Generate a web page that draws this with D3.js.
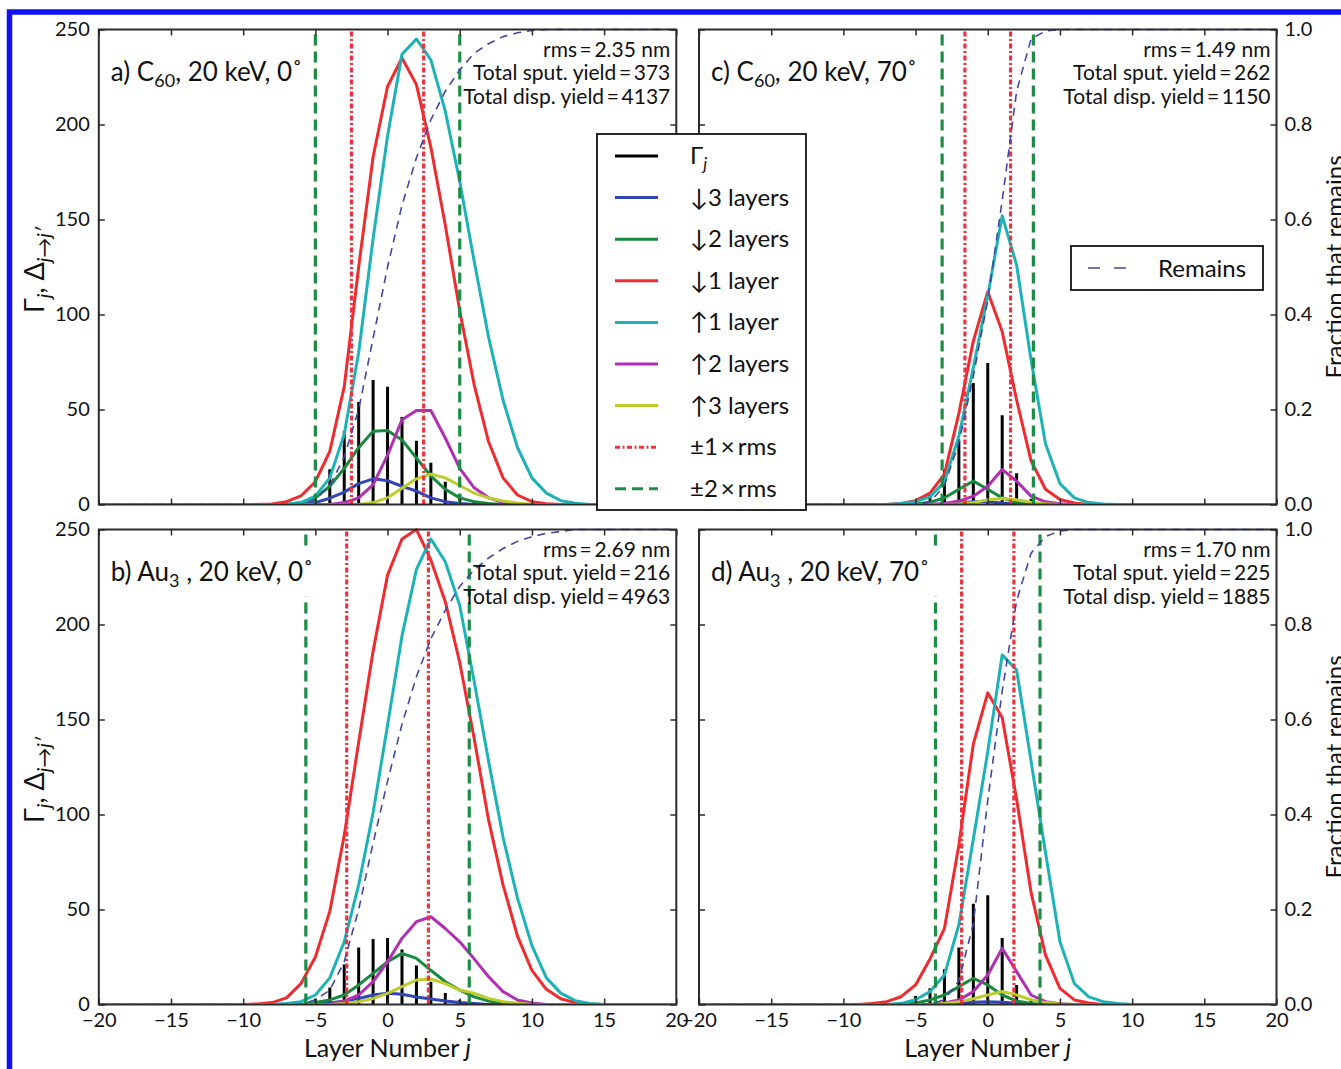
<!DOCTYPE html>
<html>
<head>
<meta charset="utf-8">
<script src="https://cdnjs.cloudflare.com/ajax/libs/d3/7.8.5/d3.min.js"></script>
<style>
  body { margin: 0; background: #fff; }
  svg { display: block; font-family: Lato, "DejaVu Sans", sans-serif; }
  .frame { fill: none; stroke: #2b2b2b; stroke-width: 2; }
  .tick line { stroke: #2b2b2b; stroke-width: 1.5; }
  .tick text { font-size: 20px; fill: #111; font-family: Lato, sans-serif; }
  .domain { display: none; }
</style>
</head>
<body>
<svg id="chart" width="1341" height="1069"></svg>
<script>
// layer index j, shared by every panel
var layers = [-20, -19, -18, -17, -16, -15, -14, -13, -12, -11, -10, -9, -8, -7, -6, -5, -4, -3, -2, -1,
              0, 1, 2, 3, 4, 5, 6, 7, 8, 9, 10, 11, 12, 13, 14, 15, 16, 17, 18, 19, 20];

// a) C60, 20 keV, 0 deg
var gammaA  = [0,0,0,0,0,0,0,0,0,0,0,0,0,0, 1,5,18.5,38.5,54,65.5,62,46,33.5,22,12,5.5,2,0.5, 0,0,0,0,0,0,0,0,0,0,0,0,0];
var down3A  = [0,0,0,0,0,0,0,0,0,0,0,0,0,0,0, 1,3.3,6.5,11,13.5,12.5,9.6,7,3.5,1.5,0.5, 0,0,0,0,0,0,0,0,0,0,0,0,0,0,0];
var down2A  = [0,0,0,0,0,0,0,0,0,0,0,0,0,0, 1,3.5,9.6,19,30,38.5,39,34,24.5,15,8,3.5,1.5,0.5, 0,0,0,0,0,0,0,0,0,0,0,0,0];
var down1A  = [0,0,0,0,0,0,0,0,0,0,0,0, 0.3,1.5,4.5,12,28,62,125,183,220,235,221,188,147,102,63,33,14,5,1.5,0.4, 0,0,0,0,0,0,0,0,0];
var up1A    = [0,0,0,0,0,0,0,0,0,0,0,0,0,0, 1,4.4,14,37,80,140,194,237,245,234,207,170,128,88,55,30,14,6,2,0.7, 0,0,0,0,0,0,0];
var up2A    = [0,0,0,0,0,0,0,0,0,0,0,0,0,0,0,0,0, 1,3.5,10.5,26,44.6,49.5,49.5,35,19,8.8,3.5,1.2, 0,0,0,0,0,0,0,0,0,0,0,0];
var up3A    = [0,0,0,0,0,0,0,0,0,0,0,0,0,0,0,0,0,0,0, 1,3.5,8.5,13.5,16,14,10,6,3.5,1.8,0.8, 0,0,0,0,0,0,0,0,0,0,0];
var remainsA = [0,0,0,0,0,0,0,0,0,0,0,0,0,0,0, 0.01,0.04,0.1,0.2,0.35,0.5,0.63,0.73,0.81,0.87,0.915,0.95,0.97,0.985,0.993,0.998, 1,1,1,1,1,1,1,1,1,1];

// b) Au3, 20 keV, 0 deg
var gammaB  = [0,0,0,0,0,0,0,0,0,0,0,0,0,0,0, 3,9,21,30,34.5,35,29,20.5,12,6,2.5,1, 0,0,0,0,0,0,0,0,0,0,0,0,0,0];
var down3B  = [0,0,0,0,0,0,0,0,0,0,0,0,0,0,0,0, 0.8,1.8,3.2,5,5.9,5.4,4,2.9,1.8,1,0.5, 0,0,0,0,0,0,0,0,0,0,0,0,0,0];
var down2B  = [0,0,0,0,0,0,0,0,0,0,0,0,0,0,0, 1,2.4,5,10.3,16.4,22.5,26.9,24.3,18,12,7.6,4,1.8,0.8, 0,0,0,0,0,0,0,0,0,0,0,0];
var down1B  = [0,0,0,0,0,0,0,0,0,0,0, 0.3,1,3.5,11,25,49,89,138,186,226,245,250,234,212,180,140,97,63,36,18,8,3,1,0.3, 0,0,0,0,0,0];
var up1B    = [0,0,0,0,0,0,0,0,0,0,0,0,0, 0.5,1.5,5,14,33,63,101,147,194,229,245,233,210,170,128,88,56,31,14,6,2,0.5, 0,0,0,0,0,0];
var up2B    = [0,0,0,0,0,0,0,0,0,0,0,0,0,0,0,0,0, 1.8,5,12,22.5,34.8,43.6,46.2,40,33,24,14.6,6.8,2.4,0.8, 0,0,0,0,0,0,0,0,0,0];
var up3B    = [0,0,0,0,0,0,0,0,0,0,0,0,0,0,0,0,0, 0.5,1.5,3.2,5.9,9.4,12.9,13.4,11,7.6,5.9,3.2,1.5,0.6, 0,0,0,0,0,0,0,0,0,0,0];
var remainsB = [0,0,0,0,0,0,0,0,0,0,0,0,0,0,0, 0.01,0.03,0.09,0.2,0.34,0.47,0.59,0.69,0.77,0.83,0.88,0.915,0.94,0.96,0.975,0.985,0.992,0.996, 1,1,1,1,1,1,1,1];

// c) C60, 20 keV, 70 deg
var gammaC  = [0,0,0,0,0,0,0,0,0,0,0,0,0,0,0, 1,5,18,33.5,64,74.5,47,16.5,3,0.5, 0,0,0,0,0,0,0,0,0,0,0,0,0,0,0,0];
var down3C  = [0,0,0,0,0,0,0,0,0,0,0,0,0,0,0,0,0, 0.3,0.8,1.5,1.5,0.8,0.3, 0,0,0,0,0,0,0,0,0,0,0,0,0,0,0,0,0,0];
var down2C  = [0,0,0,0,0,0,0,0,0,0,0,0,0,0,0, 0.3,1.2,3.5,8,12.3,8,3.5,1.2,0.4, 0,0,0,0,0,0,0,0,0,0,0,0,0,0,0,0,0];
var down1C  = [0,0,0,0,0,0,0,0,0,0,0,0,0,0, 0.5,2,6,16,48,86,112,91,55,23,8,2.6,0.8, 0,0,0,0,0,0,0,0,0,0,0,0,0,0];
var up1C    = [0,0,0,0,0,0,0,0,0,0,0,0,0,0, 0.5,1.5,4,12,36,72,110,152,126,76,32,11,3.5,1,0.3, 0,0,0,0,0,0,0,0,0,0,0,0];
var up2C    = [0,0,0,0,0,0,0,0,0,0,0,0,0,0,0,0,0, 0.5,1.8,4.4,9.6,18.4,12.3,4.4,1.4,0.4, 0,0,0,0,0,0,0,0,0,0,0,0,0,0,0];
var up3C    = [0,0,0,0,0,0,0,0,0,0,0,0,0,0,0,0,0,0, 0.3,1,2.5,3.2,2.5,1.2,0.4, 0,0,0,0,0,0,0,0,0,0,0,0,0,0,0,0];
var remainsC = [0,0,0,0,0,0,0,0,0,0,0,0,0,0,0,0, 0.005,0.04,0.13,0.27,0.43,0.64,0.87,0.98,0.997, 1,1,1,1,1,1,1,1,1,1,1,1,1,1,1,1];

// d) Au3, 20 keV, 70 deg
var gammaD  = [0,0,0,0,0,0,0,0,0,0,0,0,0,0,0, 4.5,8.5,18.5,30,53,57.5,35,10.3,2, 0,0,0,0,0,0,0,0,0,0,0,0,0,0,0,0,0];
var down3D  = [0,0,0,0,0,0,0,0,0,0,0,0,0,0,0,0,0,0, 0.5,1.2,1.5,1.2,0.6, 0,0,0,0,0,0,0,0,0,0,0,0,0,0,0,0,0,0];
var down2D  = [0,0,0,0,0,0,0,0,0,0,0,0,0,0,0, 0.8,2.4,5,9.4,13.8,10.3,5,1.8,0.5, 0,0,0,0,0,0,0,0,0,0,0,0,0,0,0,0,0];
var down1D  = [0,0,0,0,0,0,0,0,0,0,0,0, 0.5,1.5,4.1,10.3,24,40,84,137,164,151,108,59,26,8.5,2.4,0.8, 0,0,0,0,0,0,0,0,0,0,0,0,0];
var up1D    = [0,0,0,0,0,0,0,0,0,0,0,0,0,0, 0.6,2.5,6.8,15.5,42,87,133,184,176,128,80,33,11,4,1.5,0.5, 0,0,0,0,0,0,0,0,0,0,0];
var up2D    = [0,0,0,0,0,0,0,0,0,0,0,0,0,0,0,0,0, 0.8,2.4,6.8,15.5,29.6,17.3,5,1.5,0.4, 0,0,0,0,0,0,0,0,0,0,0,0,0,0,0];
var up3D    = [0,0,0,0,0,0,0,0,0,0,0,0,0,0,0,0,0, 0.5,1.5,3,5,6.8,5,2.5,1,0.3, 0,0,0,0,0,0,0,0,0,0,0,0,0,0,0];
var remainsD = [0,0,0,0,0,0,0,0,0,0,0,0,0,0,0,0,0, 0.01,0.05,0.17,0.43,0.66,0.85,0.95,0.985,0.997, 1,1,1,1,1,1,1,1,1,1,1,1,1,1,1];

var labelPrefix = ["a) C", "b) Au", "c) C", "d) Au"];
var labelSub = ["60", "3", "60", "3"];
var labelSuffix = [", 20 keV, 0\u02da", " , 20 keV, 0\u02da", ", 20 keV, 70\u02da", " , 20 keV, 70\u02da"];
var rmsNm = ["2.35", "2.69", "1.49", "1.70"];
var rmsLayers = [2.5, 2.83, 1.58, 1.81];   // rms in layer units, lines at +-1 and +-2 x rms
var sputYield = [373, 216, 262, 225];
var dispYield = [4137, 4963, 1150, 1885];

var xTicks = [-20, -15, -10, -5, 0, 5, 10, 15, 20];
var yTicks = [0, 50, 100, 150, 200, 250];
var fracTicks = [0, 0.2, 0.4, 0.6, 0.8, 1.0];

var seriesNames = ["\u21933 layers", "\u21932 layers", "\u21931 layer", "\u21911 layer", "\u21912 layers", "\u21913 layers"];
var seriesColors = ["#3346b5", "#188a3e", "#ee2b2f", "#1db3b6", "#b12fb3", "#bccc2c"];

var gammas = [gammaA, gammaB, gammaC, gammaD];
var series = [
    [down3A, down2A, down1A, up1A, up2A, up3A],
    [down3B, down2B, down1B, up1B, up2B, up3B],
    [down3C, down2C, down1C, up1C, up2C, up3C],
    [down3D, down2D, down1D, up1D, up2D, up3D]
];
var remains = [remainsA, remainsB, remainsC, remainsD];

var svg = d3.select("#chart");
var W = 577.5, H = 475;
var boxes = [{x: 98.8, y: 29.5}, {x: 98.8, y: 529.5}, {x: 699, y: 29.5}, {x: 699, y: 529.5}];
var rmsDash = "5,2.5,2,2.5", twoRmsDash = "11,6", remainsDash = "8,6";

// outer blue border of the figure (cropped on right / bottom)
svg.append("rect").attr("x", 9.5).attr("y", 12).attr("width", 1400).attr("height", 1200)
    .attr("fill", "none").attr("stroke", "#1010f4").attr("stroke-width", 5.5);

function drawPanel(i) {
    var b = boxes[i];
    var isLeft = i < 2, isBottom = (i % 2) === 1;
    var x = d3.scaleLinear().domain([-20, 20]).range([b.x, b.x + W]);
    var y = d3.scaleLinear().domain([0, 250]).range([b.y + H, b.y]);
    var yFrac = d3.scaleLinear().domain([0, 1]).range([b.y + H, b.y]);
    var g = svg.append("g");

    g.append("clipPath").attr("id", "clip" + i).append("rect")
        .attr("x", b.x).attr("y", b.y - 2).attr("width", W).attr("height", H + 2);
    var plot = g.append("g").attr("clip-path", "url(#clip" + i + ")");

    // Gamma_j as vertical bars
    var gamma = gammas[i];
    plot.selectAll("line.bar").data(layers.filter(function(d, k) { return gamma[k] > 0; }))
        .enter().append("line").attr("class", "bar")
        .attr("x1", function(d) { return x(d); }).attr("x2", function(d) { return x(d); })
        .attr("y1", y(0))
        .attr("y2", function(d) { return y(gamma[layers.indexOf(d)]); })
        .attr("stroke", "#000").attr("stroke-width", 3);

    var line = d3.line().x(function(d, k) { return x(layers[k]); }).y(function(d) { return y(d); });
    series[i].forEach(function(s, n) {
        plot.append("path").attr("d", line(s)).attr("fill", "none")
            .attr("stroke", seriesColors[n]).attr("stroke-width", 3).attr("stroke-linejoin", "round");
    });

    // +-1 x rms and +-2 x rms
    var r = rmsLayers[i];
    [[-r, "#ee3340", rmsDash], [r, "#ee3340", rmsDash], [-2 * r, "#1d8c45", twoRmsDash], [2 * r, "#1d8c45", twoRmsDash]]
        .forEach(function(v) {
            plot.append("line").attr("x1", x(v[0])).attr("x2", x(v[0]))
                .attr("y1", b.y + H).attr("y2", b.y)
                .attr("stroke", v[1]).attr("stroke-width", 3.2).attr("stroke-dasharray", v[2]);
        });

    var fracLine = d3.line().x(function(d, k) { return x(layers[k]); }).y(function(d) { return yFrac(d); });
    plot.append("path").attr("d", fracLine(remains[i])).attr("fill", "none")
        .attr("stroke", "#4545a5").attr("stroke-width", 1.6).attr("stroke-dasharray", remainsDash);

    // panel title with white box behind it
    var title = g.append("text").attr("x", b.x + 12).attr("y", b.y + 51).style("font-size", "26px").attr("fill", "#111");
    title.append("tspan").text(labelPrefix[i]);
    title.append("tspan").attr("dy", 6).style("font-size", "18px").text(labelSub[i]);
    title.append("tspan").attr("dy", -6).text(labelSuffix[i]);
    var bb = title.node().getBBox();
    g.insert("rect", function() { return title.node(); })
        .attr("x", bb.x - 6).attr("y", bb.y - 8).attr("width", bb.width + 16).attr("height", bb.height + 14)
        .attr("fill", "#fff");

    var notes = ["rms\u2009=\u2009" + rmsNm[i] + " nm",
                 "Total sput. yield\u2009=\u2009" + sputYield[i],
                 "Total disp. yield\u2009=\u2009" + dispYield[i]];
    g.selectAll("text.note").data(notes).enter().append("text").attr("class", "note")
        .attr("x", b.x + W - 6).attr("y", function(d, k) { return b.y + 27 + k * 23.7; })
        .attr("text-anchor", "end").style("font-size", "21px").attr("fill", "#111")
        .text(function(d) { return d; });

    // frame and inward ticks
    g.append("rect").attr("class", "frame").attr("x", b.x).attr("y", b.y).attr("width", W).attr("height", H);

    var bottom = d3.axisBottom(x).tickValues(xTicks).tickSize(-6).tickSizeOuter(0).tickPadding(8);
    if (!isBottom) bottom.tickFormat("");
    g.append("g").attr("transform", "translate(0," + (b.y + H) + ")").call(bottom);
    g.append("g").attr("transform", "translate(0," + b.y + ")")
        .call(d3.axisTop(x).tickValues(xTicks).tickSize(-6).tickSizeOuter(0).tickFormat(""));

    var left = d3.axisLeft(y).tickValues(yTicks).tickSize(-6).tickSizeOuter(0).tickPadding(9);
    if (!isLeft) left.tickFormat("");
    g.append("g").attr("transform", "translate(" + b.x + ",0)").call(left);

    var right = isLeft ? d3.axisRight(y).tickValues(yTicks).tickFormat("")
                       : d3.axisRight(yFrac).tickValues(fracTicks).tickFormat(d3.format(".1f")).tickPadding(8);
    right.tickSize(-6).tickSizeOuter(0);
    g.append("g").attr("transform", "translate(" + (b.x + W) + ",0)").call(right);
}

[0, 1, 2, 3].forEach(drawPanel);

// axis titles
[270, 780].forEach(function(yc) {
    var t = svg.append("text").attr("transform", "translate(44," + yc + ") rotate(-90)")
        .attr("text-anchor", "middle").style("font-size", "27px").attr("fill", "#111");
    t.append("tspan").text("\u0393");
    t.append("tspan").attr("dy", 7).style("font-size", "20px").style("font-style", "italic").text("j");
    t.append("tspan").attr("dy", -7).text(", \u0394");
    t.append("tspan").attr("dy", 7).style("font-size", "20px").style("font-style", "italic").text("j\u2192j\u2032");
});
[267, 767].forEach(function(yc) {
    svg.append("text").attr("transform", "translate(1343," + yc + ") rotate(-90)")
        .attr("text-anchor", "middle").style("font-size", "24px").attr("fill", "#111")
        .text("Fraction that remains");
});
[387.4, 987.7].forEach(function(xc) {
    var t = svg.append("text").attr("x", xc).attr("y", 1057).attr("text-anchor", "middle")
        .style("font-size", "25px").attr("fill", "#111");
    t.append("tspan").text("Layer Number ");
    t.append("tspan").style("font-style", "italic").text("j");
});

// main legend
var legend = svg.append("g");
legend.append("rect").attr("x", 597).attr("y", 134).attr("width", 209).attr("height", 376)
    .attr("fill", "#fff").attr("stroke", "#111").attr("stroke-width", 1.8);
var legendRows = [{name: "\u0393", color: "#000", dash: null}].concat(
    seriesNames.map(function(n, k) { return {name: n, color: seriesColors[k], dash: null}; }),
    [{name: "\u00b11\u2009\u00d7\u2009rms", color: "#ee3340", dash: rmsDash},
     {name: "\u00b12\u2009\u00d7\u2009rms", color: "#1d8c45", dash: twoRmsDash}]);
legendRows.forEach(function(row, k) {
    var yy = 156 + k * 41.6;
    legend.append("line").attr("x1", 615).attr("x2", 658).attr("y1", yy).attr("y2", yy)
        .attr("stroke", row.color).attr("stroke-width", 3).attr("stroke-dasharray", row.dash);
    var t = legend.append("text").attr("x", 690).attr("y", yy + 8).style("font-size", "24px").attr("fill", "#111");
    t.append("tspan").text(row.name);
    if (k === 0) t.append("tspan").attr("dy", 6).style("font-size", "17px").style("font-style", "italic").text("j");
});

// legend for the remaining fraction (panel c)
var leg2 = svg.append("g");
leg2.append("rect").attr("x", 1071).attr("y", 246).attr("width", 192).attr("height", 44)
    .attr("fill", "#fff").attr("stroke", "#111").attr("stroke-width", 1.8);
leg2.append("line").attr("x1", 1088).attr("x2", 1128).attr("y1", 268).attr("y2", 268)
    .attr("stroke", "#4545a5").attr("stroke-width", 1.6).attr("stroke-dasharray", "12,14");
leg2.append("text").attr("x", 1158).attr("y", 277).style("font-size", "24px").attr("fill", "#111").text("Remains");
</script>
</body>
</html>
